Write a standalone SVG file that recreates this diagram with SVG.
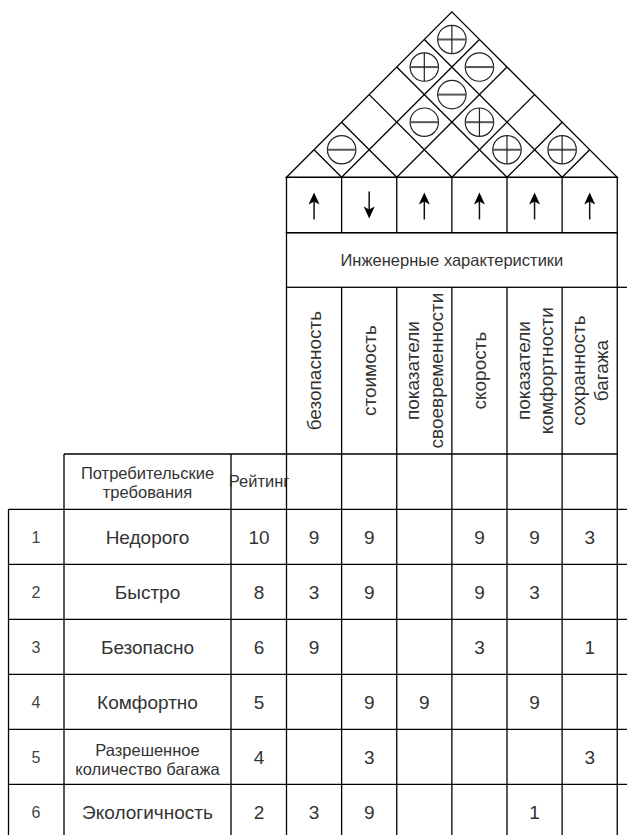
<svg xmlns="http://www.w3.org/2000/svg" width="627" height="835" viewBox="0 0 627 835">
<style>
.ln{stroke:#000;stroke-width:1.3;fill:none}
.t{font-family:"Liberation Sans",Arial,sans-serif;fill:#333;text-anchor:middle}
.big{font-size:19px}
.mid{font-size:16.5px}
.sm{font-size:16px;fill:#444}
.sym{fill:none;stroke:#222;stroke-width:1.2}
.bar{stroke:#555;stroke-width:2}
.shaft{stroke:#111;stroke-width:1.5}
</style>
<defs>
<g id="minus"><circle r="14.2" class="sym"/><line x1="-14.2" y1="0" x2="14.2" y2="0" class="bar"/></g>
<g id="plus"><circle r="14.2" class="sym"/><line x1="-14.2" y1="0" x2="14.2" y2="0" class="bar"/><line x1="0" y1="-14.2" x2="0" y2="14.2" class="sym"/></g>
<g id="up"><line x1="0" y1="219.5" x2="0" y2="200" class="shaft"/><path d="M0,192.5 L5.5,204.5 L0,201.5 L-5.5,204.5 Z" fill="#000"/></g>
<g id="down"><line x1="0" y1="191.5" x2="0" y2="211" class="shaft"/><path d="M0,218.5 L5.5,206.5 L0,209.5 L-5.5,206.5 Z" fill="#000"/></g>
</defs>
<rect width="627" height="835" fill="#fff"/>

<g id="roof">
<path class="ln" d="M286.5,177.3 L451.875,11.9 L617.25,177.3 Z"/>
<path class="ln" d="M341.625,177.3 L479.44,39.49 M341.625,177.3 L314.06,149.74
M396.75,177.3 L507,67.05 M396.75,177.3 L341.625,122.175
M451.875,177.3 L534.56,94.61 M451.875,177.3 L369.19,94.61
M507,177.3 L562.125,122.175 M507,177.3 L396.75,67.05
M562.125,177.3 L589.69,149.74 M562.125,177.3 L424.31,39.49"/>
<use href="#plus" transform="translate(451.875,39.49)"/>
<use href="#plus" transform="translate(424.31,67.05)"/>
<use href="#minus" transform="translate(479.44,67.05)"/>
<use href="#minus" transform="translate(451.875,94.61)"/>
<use href="#minus" transform="translate(424.31,122.175)"/>
<use href="#plus" transform="translate(479.44,122.175)"/>
<use href="#minus" transform="translate(341.625,149.74)"/>
<use href="#plus" transform="translate(507,149.74)"/>
<use href="#plus" transform="translate(562.125,149.74)"/>
</g>

<g id="direction-row">
<rect class="ln" x="286.5" y="177.3" width="330.75" height="55.4"/>
<path class="ln" d="M341.625,177.3 V232.7 M396.75,177.3 V232.7 M451.875,177.3 V232.7 M507,177.3 V232.7 M562.125,177.3 V232.7"/>
</g>

<g id="arrows">
<use href="#up" transform="translate(314.06,0)"/>
<use href="#down" transform="translate(369.19,0)"/>
<use href="#up" transform="translate(424.31,0)"/>
<use href="#up" transform="translate(479.44,0)"/>
<use href="#up" transform="translate(534.56,0)"/>
<use href="#up" transform="translate(589.69,0)"/>
</g>

<g id="eng-header">
<rect class="ln" x="286.5" y="232.7" width="330.75" height="54.6"/>
<line class="ln" x1="617.25" y1="287.3" x2="627" y2="287.3"/>
<text class="t mid" x="451.9" y="266.3">Инженерные характеристики</text>
</g>

<g id="grid">
<path class="ln" d="M286.5,287.3 V835 M341.625,287.3 V835 M396.75,287.3 V835 M451.875,287.3 V835 M507,287.3 V835 M562.125,287.3 V835 M617.25,287.3 V835"/>
<path class="ln" d="M64,454 H617.25 M64,454 V835 M231,454 V835 M8.5,509.3 V835"/>
<path class="ln" d="M8.5,509.3 H627 M8.5,564.3 H627 M8.5,619.3 H627 M8.5,674.3 H627 M8.5,729.3 H627 M8.5,784.3 H627"/>
</g>

<g id="eng-labels" class="t big">
<text transform="translate(314.06,370.6) rotate(-90)" y="6.8">безопасность</text>
<text transform="translate(369.19,370.6) rotate(-90)" y="6.8">стоимость</text>
<text transform="translate(424.31,370.6) rotate(-90)"><tspan x="0" y="-5">показатели</tspan><tspan x="0" y="18.5">своевременности</tspan></text>
<text transform="translate(479.44,370.6) rotate(-90)" y="6.8">скорость</text>
<text transform="translate(534.56,370.6) rotate(-90)"><tspan x="0" y="-5">показатели</tspan><tspan x="0" y="18.5">комфортности</tspan></text>
<text transform="translate(589.69,370.6) rotate(-90)"><tspan x="0" y="-5">сохранность</tspan><tspan x="0" y="18.5">багажа</tspan></text>
</g>

<g id="req-header" class="t mid">
<text x="147.5" y="479.3">Потребительские</text>
<text x="147.5" y="498.3">требования</text>
<text x="259" y="487.3">Рейтинг</text>
</g>

<g id="row1">
<text class="t sm" x="36" y="542.5">1</text>
<text class="t big" x="147.5" y="543.6">Недорого</text>
<text class="t big" x="259" y="543.6">10</text>
<text class="t big" x="314.06" y="543.6">9</text>
<text class="t big" x="369.19" y="543.6">9</text>
<text class="t big" x="479.44" y="543.6">9</text>
<text class="t big" x="534.56" y="543.6">9</text>
<text class="t big" x="589.69" y="543.6">3</text>
</g>
<g id="row2">
<text class="t sm" x="36" y="597.5">2</text>
<text class="t big" x="147.5" y="598.6">Быстро</text>
<text class="t big" x="259" y="598.6">8</text>
<text class="t big" x="314.06" y="598.6">3</text>
<text class="t big" x="369.19" y="598.6">9</text>
<text class="t big" x="479.44" y="598.6">9</text>
<text class="t big" x="534.56" y="598.6">3</text>
</g>
<g id="row3">
<text class="t sm" x="36" y="652.5">3</text>
<text class="t big" x="147.5" y="653.6">Безопасно</text>
<text class="t big" x="259" y="653.6">6</text>
<text class="t big" x="314.06" y="653.6">9</text>
<text class="t big" x="479.44" y="653.6">3</text>
<text class="t big" x="589.69" y="653.6">1</text>
</g>
<g id="row4">
<text class="t sm" x="36" y="707.5">4</text>
<text class="t big" x="147.5" y="708.6">Комфортно</text>
<text class="t big" x="259" y="708.6">5</text>
<text class="t big" x="369.19" y="708.6">9</text>
<text class="t big" x="424.31" y="708.6">9</text>
<text class="t big" x="534.56" y="708.6">9</text>
</g>
<g id="row5">
<text class="t sm" x="36" y="762.5">5</text>
<text class="t mid" x="147.5" y="755.5">Разрешенное</text>
<text class="t mid" x="147.5" y="775">количество багажа</text>
<text class="t big" x="259" y="763.6">4</text>
<text class="t big" x="369.19" y="763.6">3</text>
<text class="t big" x="589.69" y="763.6">3</text>
</g>
<g id="row6">
<text class="t sm" x="36" y="817.5">6</text>
<text class="t big" x="147.5" y="818.6">Экологичность</text>
<text class="t big" x="259" y="818.6">2</text>
<text class="t big" x="314.06" y="818.6">3</text>
<text class="t big" x="369.19" y="818.6">9</text>
<text class="t big" x="534.56" y="818.6">1</text>
</g>
</svg>
